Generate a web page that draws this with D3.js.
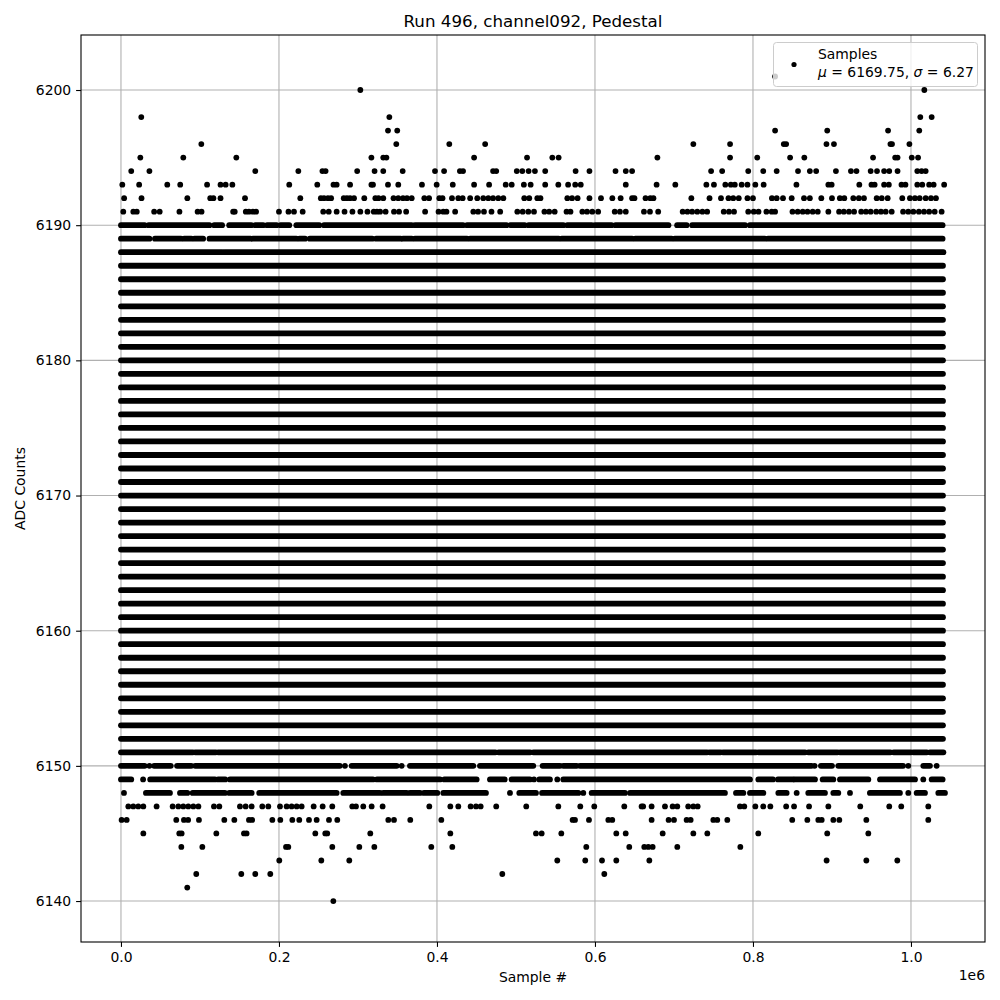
<!DOCTYPE html>
<html><head><meta charset="utf-8">
<script src="https://cdn.jsdelivr.net/npm/d3@7"></script>
<style>body{margin:0;background:#fff}svg{display:block;font-family:"DejaVu Sans",sans-serif}</style>
</head><body>
<svg id="c" width="1000" height="1000"></svg>
<script>
// ---- data (sample index in units of 1e6, ADC counts) ----
const xTicks = [0.0, 0.2, 0.4, 0.6, 0.8, 1.0];
const yTicks = [6140, 6150, 6160, 6170, 6180, 6190, 6200];
const solidRows = [6152,6153,6154,6155,6156,6157,6158,6159,6160,6161,6162,6163,6164,6165,6166,6167,6168,6169,6170,6171,6172,6173,6174,6175,6176,6177,6178,6179,6180,6181,6182,6183,6184,6185,6186,6187];
const solidExtent = [0, 1.0405];
// partially filled rows: value + runs of densely packed samples
const runValues = [6190, 6189, 6188, 6151, 6150, 6149, 6148];
const runSegments = [
 [[0,0.030],[0.035,0.112],[0.118,0.128],[0.137,0.165],[0.170,0.180],[0.185,0.197],[0.202,0.213],[0.222,0.251],[0.257,0.368],[0.372,0.433],[0.438,0.488],[0.493,0.511],[0.516,0.560],[0.565,0.596],[0.600,0.621],[0.626,0.693],[0.704,0.716],[0.723,0.790],[0.796,1.040]],
 [[0,0.036],[0.043,0.076],[0.080,0.089],[0.093,0.104],[0.112,0.164],[0.167,0.222],[0.226,0.233],[0.239,0.318],[0.323,0.354],[0.357,0.368],[0.372,0.438],[0.442,0.554],[0.558,0.647],[0.651,0.697],[0.701,0.815],[0.819,1.040]],
 [[0,0.128],[0.131,1.041]],
 [[0,0.091],[0.094,0.120],[0.123,0.474],[0.478,0.518],[0.522,0.742],[0.745,0.759],[0.762,0.804],[0.807,0.866],[0.870,0.907],[0.910,0.974],[0.978,1.000],[1.003,1.020],[1.024,1.041]],
 [[0,0.030],[0.036,0.036],[0.042,0.063],[0.071,0.089],[0.094,0.277],[0.2835,0.2835],[0.292,0.349],[0.3553,0.3553],[0.3658,0.446],[0.4544,0.5219],[0.5337,0.5557],[0.5599,0.5768],[0.581,0.874],[0.878,0.878],[0.886,0.900],[0.908,0.990],[0.9966,0.9966],[1.0156,1.024],[1.0325,1.0325]],
 [[0,0.013],[0.028,0.028],[0.037,0.119],[0.123,0.132],[0.138,0.319],[0.324,0.4038],[0.4093,0.4502],[0.4671,0.4857],[0.4945,0.5177],[0.5228,0.5228],[0.5295,0.543],[0.5523,0.5523],[0.5599,0.7962],[0.8068,0.8253],[0.8316,0.8506],[0.8527,0.8785],[0.8882,0.9017],[0.9101,0.946],[0.9608,1.0051],[1.0156,1.0156],[1.0262,1.04]],
 [[0.0038,0.0038],[0.0316,0.062],[0.0747,0.084],[0.0907,0.1316],[0.1371,0.1654],[0.175,0.273],[0.2814,0.3278],[0.332,0.3616],[0.3658,0.3785],[0.3835,0.4004],[0.408,0.462],[0.4924,0.4924],[0.5042,0.5253],[0.533,0.579],[0.5852,0.5852],[0.5958,0.638],[0.6444,0.7645],[0.7785,0.7878],[0.7962,0.8131],[0.8321,0.8426],[0.8553,0.8553],[0.870,0.8911],[0.9017,0.908],[0.9228,0.9228],[0.948,0.986],[0.9966,0.9966],[1.0072,1.0177],[1.0346,1.043]]
];
// sparse rows: value + individual sample positions
const pointValues = [6201, 6200, 6198, 6197, 6196, 6195, 6194, 6193, 6192, 6191, 6147, 6146, 6145, 6144, 6143, 6142, 6141, 6140];
const pointSamples = [
 [0.828],
 [0.303, 1.0169],
 [0.0257, 0.3397, 1.0118, 1.0262],
 [0.338, 0.3497, 0.828, 0.894, 0.971, 1.0105],
 [0.1017, 0.3485, 0.4156, 0.461, 0.7245, 0.771, 0.839, 0.842, 0.893, 0.9025, 0.974, 0.976, 0.998],
 [0.0245, 0.0789, 0.146, 0.317, 0.332, 0.336, 0.447, 0.514, 0.546, 0.554, 0.679, 0.771, 0.8054, 0.847, 0.865, 0.952, 0.980, 0.983, 1.001, 1.009],
 [0.013, 0.036, 0.170, 0.2245, 0.255, 0.259, 0.299, 0.321, 0.332, 0.3566, 0.3975, 0.409, 0.429, 0.433, 0.471, 0.475, 0.501, 0.508, 0.516, 0.524, 0.537, 0.5755, 0.593, 0.626, 0.639, 0.647, 0.747, 0.761, 0.794, 0.813, 0.830, 0.857, 0.872, 0.880, 0.905, 0.924, 0.931, 0.949, 0.957, 0.966, 0.9725, 0.983, 1.008, 1.0135, 1.0186],
 [0.0017, 0.023, 0.0586, 0.075, 0.109, 0.126, 0.1325, 0.141, 0.213, 0.2485, 0.269, 0.273, 0.290, 0.317, 0.319, 0.338, 0.351, 0.381, 0.3996, 0.420, 0.447, 0.466, 0.487, 0.4946, 0.510, 0.5186, 0.537, 0.5536, 0.566, 0.575, 0.582, 0.639, 0.678, 0.7017, 0.741, 0.7506, 0.765, 0.772, 0.777, 0.7857, 0.793, 0.803, 0.8135, 0.855, 0.8954, 0.8996, 0.9346, 0.950, 0.954, 0.966, 0.972, 0.988, 0.993, 1.008, 1.0143, 1.023, 1.0287, 1.042],
 [0.004, 0.026, 0.084, 0.113, 0.117, 0.126, 0.157, 0.227, 0.253, 0.257, 0.262, 0.266, 0.282, 0.286, 0.290, 0.295, 0.308, 0.322, 0.326, 0.332, 0.345, 0.351, 0.357, 0.362, 0.368, 0.384, 0.390, 0.403, 0.407, 0.419, 0.427, 0.4325, 0.442, 0.451, 0.4586, 0.465, 0.471, 0.4776, 0.484, 0.5105, 0.5168, 0.527, 0.531, 0.565, 0.571, 0.578, 0.593, 0.6076, 0.622, 0.6325, 0.647, 0.650, 0.664, 0.670, 0.674, 0.722, 0.745, 0.7595, 0.769, 0.775, 0.782, 0.793, 0.800, 0.824, 0.830, 0.838, 0.849, 0.8646, 0.872, 0.8865, 0.900, 0.910, 0.9156, 0.927, 0.934, 0.9405, 0.9566, 0.963, 0.9705, 0.989, 0.9987, 1.005, 1.011, 1.0186, 1.0253, 1.0316],
 [0.0029, 0.0156, 0.020, 0.042, 0.049, 0.074, 0.097, 0.102, 0.142, 0.144, 0.158, 0.162, 0.167, 0.171, 0.200, 0.212, 0.219, 0.230, 0.256, 0.263, 0.273, 0.283, 0.293, 0.303, 0.312, 0.320, 0.324, 0.328, 0.335, 0.3456, 0.352, 0.361, 0.385, 0.402, 0.408, 0.412, 0.423, 0.446, 0.452, 0.4595, 0.469, 0.480, 0.5017, 0.5085, 0.5156, 0.5228, 0.536, 0.542, 0.549, 0.564, 0.569, 0.584, 0.590, 0.5966, 0.604, 0.625, 0.6316, 0.639, 0.662, 0.6696, 0.680, 0.711, 0.717, 0.723, 0.7295, 0.736, 0.742, 0.763, 0.7696, 0.776, 0.794, 0.801, 0.807, 0.817, 0.8237, 0.828, 0.850, 0.8566, 0.863, 0.869, 0.8756, 0.882, 0.8954, 0.909, 0.915, 0.9215, 0.928, 0.937, 0.943, 0.949, 0.956, 0.962, 0.968, 0.9756, 0.990, 0.9966, 1.003, 1.010, 1.0165, 1.023, 1.030, 1.0388],
 [0.0093, 0.0156, 0.0219, 0.0283, 0.0451, 0.0654, 0.0726, 0.0789, 0.0852, 0.0916, 0.098, 0.1177, 0.1245, 0.1506, 0.1578, 0.1654, 0.1789, 0.1865, 0.2013, 0.2097, 0.216, 0.2224, 0.2287, 0.2439, 0.2553, 0.2675, 0.2928, 0.2975, 0.3067, 0.3173, 0.3312, 0.3903, 0.4169, 0.427, 0.4426, 0.4494, 0.4553, 0.475, 0.513, 0.5536, 0.5814, 0.5991, 0.6371, 0.659, 0.661, 0.6717, 0.6886, 0.6983, 0.7042, 0.718, 0.7245, 0.73, 0.7835, 0.789, 0.803, 0.813, 0.822, 0.842, 0.852, 0.871, 0.8954, 0.9358, 0.9725, 0.9877, 1.0219],
 [0.0008, 0.0072, 0.070, 0.0797, 0.085, 0.0987, 0.1308, 0.1435, 0.162, 0.166, 0.1916, 0.2017, 0.2169, 0.2257, 0.238, 0.2477, 0.2633, 0.2738, 0.3384, 0.3456, 0.3662, 0.4055, 0.5717, 0.5747, 0.5924, 0.6169, 0.6219, 0.6717, 0.6932, 0.700, 0.716, 0.7211, 0.7498, 0.7548, 0.7675, 0.8497, 0.8688, 0.8827, 0.887, 0.9017, 0.9093, 0.9435, 1.0219],
 [0.0283, 0.0738, 0.0768, 0.1207, 0.1557, 0.159, 0.246, 0.2586, 0.2611, 0.3156, 0.4169, 0.5253, 0.5325, 0.5574, 0.627, 0.6389, 0.6857, 0.7245, 0.7422, 0.8067, 0.894, 0.946],
 [0.0764, 0.103, 0.2089, 0.2118, 0.2675, 0.3017, 0.3207, 0.3928, 0.4194, 0.589, 0.6434, 0.6624, 0.6675, 0.673, 0.7042, 0.784],
 [0.2004, 0.2536, 0.289, 0.5523, 0.5877, 0.6089, 0.627, 0.6688, 0.8932, 0.9435, 0.9827],
 [0.0953, 0.1523, 0.170, 0.189, 0.4827, 0.6118],
 [0.0839],
 [0.2688]
];
const titleText = "Run 496, channel092, Pedestal";
const legendLabel = "Samples";
const statMu = "6169.75", statSigma = "6.27";

// ---- layout ----
const L = 81, R = 985, T = 35, B = 942;
const svg = d3.select("#c");
const x = d3.scaleLinear().domain([-0.0506, 1.0937]).range([L, R]);
const y = d3.scaleLinear().domain([6136.97, 6204.07]).range([B, T]);
const fs = 13.9;

// grid
const g = svg.append("g");
g.selectAll(".gx").data(xTicks).join("line").attr("x1", d => x(d)).attr("x2", d => x(d))
  .attr("y1", T).attr("y2", B).attr("stroke", "#b0b0b0").attr("stroke-width", 1.1);
g.selectAll(".gy").data(yTicks).join("line").attr("y1", d => y(d)).attr("y2", d => y(d))
  .attr("x1", L).attr("x2", R).attr("stroke", "#b0b0b0").attr("stroke-width", 1.1);

// data
const clip = svg.append("clipPath").attr("id", "clp").append("rect").attr("x", L).attr("y", T).attr("width", R - L).attr("height", B - T);
const dg = svg.append("g").attr("clip-path", "url(#clp)");
const sw = 5.8;
dg.selectAll(".solid").data(solidRows).join("line")
  .attr("x1", x(solidExtent[0])).attr("x2", x(solidExtent[1]))
  .attr("y1", d => y(d)).attr("y2", d => y(d))
  .attr("stroke", "#000").attr("stroke-width", sw).attr("stroke-linecap", "round");
const runs = [];
runValues.forEach((v, i) => runSegments[i].forEach(s => runs.push({v, a: s[0], b: s[1]})));
dg.selectAll(".run").data(runs).join("line")
  .attr("x1", d => x(d.a)).attr("x2", d => x(d.b) + 0.01)
  .attr("y1", d => y(d.v)).attr("y2", d => y(d.v))
  .attr("stroke", "#000").attr("stroke-width", sw).attr("stroke-linecap", "round");
const pts = [];
pointValues.forEach((v, i) => pointSamples[i].forEach(s => pts.push({v, s})));
dg.selectAll(".pt").data(pts).join("circle")
  .attr("cx", d => x(d.s)).attr("cy", d => y(d.v)).attr("r", sw / 2).attr("fill", "#000");

// spines
svg.append("rect").attr("x", L).attr("y", T).attr("width", R - L).attr("height", B - T)
  .attr("fill", "none").attr("stroke", "#000").attr("stroke-width", 1.1);

// axes
const xa = svg.append("g").attr("transform", `translate(0,${B})`)
  .call(d3.axisBottom(x).tickValues(xTicks).tickFormat(d3.format(".1f")).tickSize(4.9).tickPadding(4.9));
const ya = svg.append("g").attr("transform", `translate(${L},0)`)
  .call(d3.axisLeft(y).tickValues(yTicks).tickFormat(d3.format("d")).tickSize(4.9).tickPadding(4.9));
[xa, ya].forEach(a => {
  a.select(".domain").remove();
  a.selectAll(".tick line").attr("stroke", "#000").attr("stroke-width", 1.1);
  a.selectAll(".tick text").attr("font-size", fs).attr("font-family", "DejaVu Sans").attr("fill", "#000");
});

// texts
svg.append("text").attr("x", (L + R) / 2).attr("y", 27).attr("text-anchor", "middle")
  .attr("font-size", 16.7).text(titleText);
svg.append("text").attr("x", (L + R) / 2).attr("y", 982).attr("text-anchor", "middle")
  .attr("font-size", fs).text("Sample #");
svg.append("text").attr("x", R).attr("y", 980).attr("text-anchor", "end")
  .attr("font-size", fs).text("1e6");
svg.append("text").attr("transform", `translate(25,${(T + B) / 2}) rotate(-90)`).attr("text-anchor", "middle")
  .attr("font-size", fs).text("ADC Counts");

// legend
const lg = svg.append("g");
lg.append("rect").attr("x", 773.5).attr("y", 42.5).attr("width", 204).attr("height", 44).attr("rx", 3)
  .attr("fill", "#fff").attr("fill-opacity", 0.8).attr("stroke", "#cccccc").attr("stroke-width", 1);
lg.append("circle").attr("cx", 794).attr("cy", 64.5).attr("r", 2.6).attr("fill", "#000");
lg.append("text").attr("x", 818).attr("y", 59).attr("font-size", fs).text(legendLabel);
const t2 = lg.append("text").attr("x", 818).attr("y", 77).attr("font-size", fs);
t2.append("tspan").attr("font-style", "italic").text("μ");
t2.append("tspan").text(` = ${statMu}, `);
t2.append("tspan").attr("font-style", "italic").text("σ");
t2.append("tspan").text(` = ${statSigma}`);
</script>
</body></html>
